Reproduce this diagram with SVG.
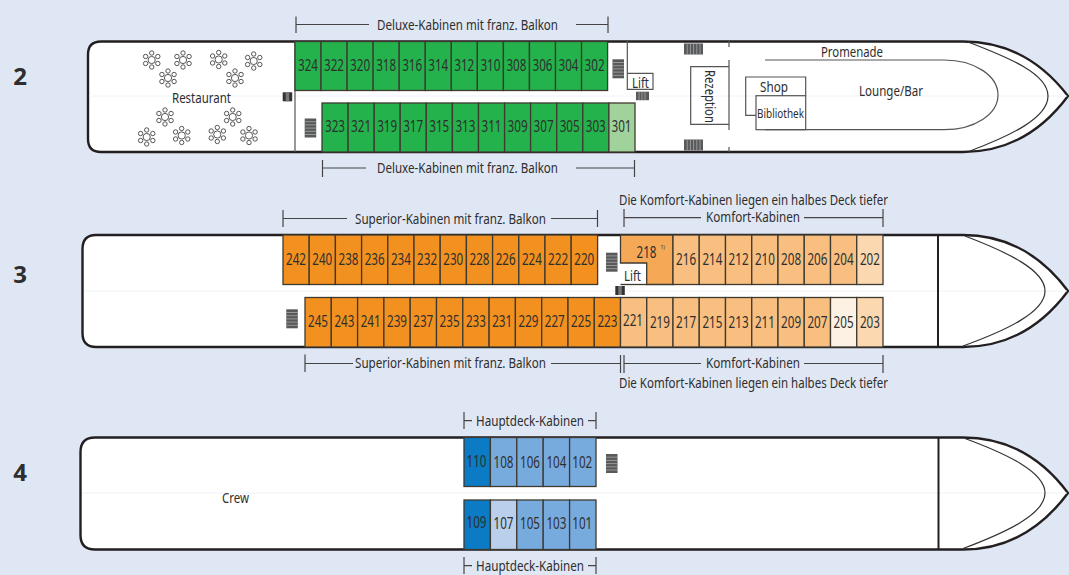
<svg xmlns="http://www.w3.org/2000/svg" width="1069" height="575" viewBox="0 0 1069 575">
<style>
text{font-family:"Noto Sans","Liberation Sans",sans-serif;fill:#2e2e2e;font-size:14px}
.n{font-size:16px;text-anchor:middle}
.c{text-anchor:middle}
.d{font-family:"Open Sans","Noto Sans",sans-serif;font-size:24px;font-weight:700;text-anchor:middle}
.hull{fill:#fff;stroke:#231f20;stroke-width:2.4}
.inner{fill:none;stroke:#333;stroke-width:1.2}
.mid{fill:none;stroke:#eef2f9;stroke-width:1}
.wall{fill:none;stroke:#555;stroke-width:1.2}
.br{fill:none;stroke:#444;stroke-width:1.2}
.cab{stroke:#3f3a30;stroke-width:1.3}
.g{fill:#23b24b}.lg{fill:#a0d39b}
.o{fill:#f29120}.lo{fill:#f8bf80}.mo{fill:#f5a957}.po{fill:#fcd8b0}.vo{fill:#fdf1e3}
.b{fill:#0a7bc4}.mb{fill:#78abdd}.pb{fill:#b9cfeb}
</style>
<defs>
<g id="table" fill="#fff" stroke="#444" stroke-width=".9">
<circle r="3.6"/><circle cx="0" cy="-7" r="2.2"/><circle cx="6.1" cy="-3.5" r="2.2"/><circle cx="6.1" cy="3.5" r="2.2"/><circle cx="0" cy="7" r="2.2"/><circle cx="-6.1" cy="3.5" r="2.2"/><circle cx="-6.1" cy="-3.5" r="2.2"/>
</g>
<g id="stairV"><rect width="11.5" height="19" fill="#58595b"/><path d="M0 3.2H11.5M0 6.4H11.5M0 9.6H11.5M0 12.8H11.5M0 16H11.5" stroke="#a8a8a8" stroke-width=".8"/></g>
<g id="stairH"><rect width="19" height="11" fill="#58595b"/><path d="M3.2 0V11M6.4 0V11M9.6 0V11M12.8 0V11M16 0V11" stroke="#a8a8a8" stroke-width=".8"/></g>
<g id="stairS"><rect width="13" height="8.5" fill="#58595b"/><path d="M3 0V8.5M6 0V8.5M9 0V8.5" stroke="#a8a8a8" stroke-width=".8"/></g>
<g id="liftM"><rect width="9.5" height="9" fill="#333"/><rect x="3" width="3.5" height="9" fill="#777"/></g>
</defs>
<rect id="background" width="1069" height="575" fill="#e0e7f4"/>

<g id="deck2">
<path id="hull2" class="hull" d="M101 41.500H963C1008 41.500 1042 62 1068 96C1042 131 1008 152 963 152H101Q88 152 88 139V54.500Q88 41.500 101 41.500Z"/>
<path class="mid" d="M89 96H1067"/>
<path id="bow2" class="inner" d="M968 42C1010 58 1048 74 1048 96C1048 118 1010 136 970 151"/>
<path id="lounge-wall" class="wall" d="M765 60H944C975 60 998 76 998 95C998 114 975 129.700 944 129.700H765"/>
<path id="walls2" class="wall" d="M295 41V152M729 41V47M729 60V130M729 147V152"/>
<g id="n2"><text class="d" x="20" y="85">2</text></g>
<g id="tables"><use href="#table" x="151.700" y="60"/><use href="#table" x="183" y="60"/><use href="#table" x="218.700" y="59.500"/><use href="#table" x="253.700" y="61"/><use href="#table" x="168" y="78"/><use href="#table" x="235" y="78"/><use href="#table" x="165" y="117"/><use href="#table" x="232.700" y="117"/><use href="#table" x="146.700" y="137"/><use href="#table" x="181.700" y="135.500"/><use href="#table" x="217.300" y="134.500"/><use href="#table" x="249" y="135.500"/></g>
<g id="restaurant"><text class="c" x="201.500" y="102.500" textLength="59" lengthAdjust="spacingAndGlyphs">Restaurant</text></g>
<g id="promenade"><text class="c" x="852" y="56.500" textLength="62" lengthAdjust="spacingAndGlyphs">Promenade</text></g>
<g id="lounge"><text class="c" x="891" y="96" textLength="64" lengthAdjust="spacingAndGlyphs">Lounge/Bar</text></g>
<g id="shop"><path class="wall" d="M756 115.300H745.700V77H805.700V95.700"/><text class="c" x="774" y="91.500" textLength="28" lengthAdjust="spacingAndGlyphs">Shop</text></g>
<g id="bibliothek"><rect class="wall" x="756" y="95.700" width="49.700" height="34" fill="#fff"/><text class="c" x="780.500" y="118" style="font-size:13px" textLength="47" lengthAdjust="spacingAndGlyphs">Bibliothek</text></g>
<g id="rezeption"><path class="wall" d="M729 66.700H690.700V124.300H729"/><text class="c" transform="translate(705 96.500) rotate(90)" textLength="53" lengthAdjust="spacingAndGlyphs">Rezeption</text></g>
<g id="lift2"><path class="wall" d="M627.300 41V89.300H653V73.300H627.300"/><text class="c" x="640.500" y="87.500" textLength="17" lengthAdjust="spacingAndGlyphs">Lift</text></g>
<g id="stairs2"><use href="#stairH" x="684" y="43.500"/><use href="#stairH" x="684" y="139.500"/><use href="#stairS" x="636" y="91.700"/><use href="#stairV" x="612.500" y="59.300"/><use href="#stairV" x="304.700" y="118.500"/><use href="#liftM" x="282.700" y="92.300"/></g>

<g id="c324"><rect class="cab g" x="295" y="41.500" width="26.050" height="49"/><text class="n" x="308" y="70.500" textLength="20" lengthAdjust="spacingAndGlyphs">324</text></g>
<g id="c322"><rect class="cab g" x="321.050" y="41.500" width="26.050" height="49"/><text class="n" x="334" y="70.500" textLength="20" lengthAdjust="spacingAndGlyphs">322</text></g>
<g id="c320"><rect class="cab g" x="347.100" y="41.500" width="26.050" height="49"/><text class="n" x="360.100" y="70.500" textLength="20" lengthAdjust="spacingAndGlyphs">320</text></g>
<g id="c318"><rect class="cab g" x="373.150" y="41.500" width="26.050" height="49"/><text class="n" x="386.200" y="70.500" textLength="20" lengthAdjust="spacingAndGlyphs">318</text></g>
<g id="c316"><rect class="cab g" x="399.200" y="41.500" width="26.050" height="49"/><text class="n" x="412.200" y="70.500" textLength="20" lengthAdjust="spacingAndGlyphs">316</text></g>
<g id="c314"><rect class="cab g" x="425.250" y="41.500" width="26.050" height="49"/><text class="n" x="438.300" y="70.500" textLength="20" lengthAdjust="spacingAndGlyphs">314</text></g>
<g id="c312"><rect class="cab g" x="451.300" y="41.500" width="26.050" height="49"/><text class="n" x="464.300" y="70.500" textLength="20" lengthAdjust="spacingAndGlyphs">312</text></g>
<g id="c310"><rect class="cab g" x="477.350" y="41.500" width="26.050" height="49"/><text class="n" x="490.400" y="70.500" textLength="20" lengthAdjust="spacingAndGlyphs">310</text></g>
<g id="c308"><rect class="cab g" x="503.400" y="41.500" width="26.050" height="49"/><text class="n" x="516.400" y="70.500" textLength="20" lengthAdjust="spacingAndGlyphs">308</text></g>
<g id="c306"><rect class="cab g" x="529.450" y="41.500" width="26.050" height="49"/><text class="n" x="542.500" y="70.500" textLength="20" lengthAdjust="spacingAndGlyphs">306</text></g>
<g id="c304"><rect class="cab g" x="555.500" y="41.500" width="26.050" height="49"/><text class="n" x="568.500" y="70.500" textLength="20" lengthAdjust="spacingAndGlyphs">304</text></g>
<g id="c302"><rect class="cab g" x="581.550" y="41.500" width="26.050" height="49"/><text class="n" x="594.600" y="70.500" textLength="20" lengthAdjust="spacingAndGlyphs">302</text></g>

<g id="c323"><rect class="cab g" x="322" y="103" width="26.100" height="49"/><text class="n" x="335" y="132" textLength="20" lengthAdjust="spacingAndGlyphs">323</text></g>
<g id="c321"><rect class="cab g" x="348.100" y="103" width="26.100" height="49"/><text class="n" x="361.100" y="132" textLength="20" lengthAdjust="spacingAndGlyphs">321</text></g>
<g id="c319"><rect class="cab g" x="374.200" y="103" width="26" height="49"/><text class="n" x="387.200" y="132" textLength="20" lengthAdjust="spacingAndGlyphs">319</text></g>
<g id="c317"><rect class="cab g" x="400.200" y="103" width="26.100" height="49"/><text class="n" x="413.200" y="132" textLength="20" lengthAdjust="spacingAndGlyphs">317</text></g>
<g id="c315"><rect class="cab g" x="426.300" y="103" width="26.100" height="49"/><text class="n" x="439.300" y="132" textLength="20" lengthAdjust="spacingAndGlyphs">315</text></g>
<g id="c313"><rect class="cab g" x="452.400" y="103" width="26.100" height="49"/><text class="n" x="465.400" y="132" textLength="20" lengthAdjust="spacingAndGlyphs">313</text></g>
<g id="c311"><rect class="cab g" x="478.500" y="103" width="26.100" height="49"/><text class="n" x="491.500" y="132" textLength="20" lengthAdjust="spacingAndGlyphs">311</text></g>
<g id="c309"><rect class="cab g" x="504.600" y="103" width="26" height="49"/><text class="n" x="517.600" y="132" textLength="20" lengthAdjust="spacingAndGlyphs">309</text></g>
<g id="c307"><rect class="cab g" x="530.600" y="103" width="26.100" height="49"/><text class="n" x="543.600" y="132" textLength="20" lengthAdjust="spacingAndGlyphs">307</text></g>
<g id="c305"><rect class="cab g" x="556.700" y="103" width="26.100" height="49"/><text class="n" x="569.700" y="132" textLength="20" lengthAdjust="spacingAndGlyphs">305</text></g>
<g id="c303"><rect class="cab g" x="582.800" y="103" width="26.100" height="49"/><text class="n" x="595.800" y="132" textLength="20" lengthAdjust="spacingAndGlyphs">303</text></g>
<g id="c301"><rect class="cab lg" x="608.900" y="103" width="26.100" height="49"/><text class="n" x="621.500" y="132" textLength="20" lengthAdjust="spacingAndGlyphs">301</text></g>
</g>

<g id="deck3">
<path id="hull3" class="hull" d="M96 235H963C1008 235 1042 256 1068 291C1042 326 1008 347 963 347H96Q82.500 347 82.500 333V249Q82.500 235 96 235Z"/>
<path class="mid" d="M84 291H1067"/>
<path id="bow3" class="inner" d="M965 236C1007 252 1045 270 1045 291C1045 312 1007 330 963 346"/>
<path class="hull" d="M938 235V347" style="fill:none;stroke-width:2"/>
<g id="n3"><text class="d" x="20" y="283">3</text></g>

<g id="c242"><rect class="cab o" x="283" y="235" width="26.200" height="49.500"/><text class="n" x="296" y="264.500" textLength="20" lengthAdjust="spacingAndGlyphs">242</text></g>
<g id="c240"><rect class="cab o" x="309.200" y="235" width="26.200" height="49.500"/><text class="n" x="322.300" y="264.500" textLength="20" lengthAdjust="spacingAndGlyphs">240</text></g>
<g id="c238"><rect class="cab o" x="335.400" y="235" width="26.200" height="49.500"/><text class="n" x="348.500" y="264.500" textLength="20" lengthAdjust="spacingAndGlyphs">238</text></g>
<g id="c236"><rect class="cab o" x="361.600" y="235" width="26.200" height="49.500"/><text class="n" x="374.700" y="264.500" textLength="20" lengthAdjust="spacingAndGlyphs">236</text></g>
<g id="c234"><rect class="cab o" x="387.800" y="235" width="26.200" height="49.500"/><text class="n" x="400.900" y="264.500" textLength="20" lengthAdjust="spacingAndGlyphs">234</text></g>
<g id="c232"><rect class="cab o" x="414" y="235" width="26.200" height="49.500"/><text class="n" x="427.100" y="264.500" textLength="20" lengthAdjust="spacingAndGlyphs">232</text></g>
<g id="c230"><rect class="cab o" x="440.200" y="235" width="26.200" height="49.500"/><text class="n" x="453.300" y="264.500" textLength="20" lengthAdjust="spacingAndGlyphs">230</text></g>
<g id="c228"><rect class="cab o" x="466.400" y="235" width="26.200" height="49.500"/><text class="n" x="479.500" y="264.500" textLength="20" lengthAdjust="spacingAndGlyphs">228</text></g>
<g id="c226"><rect class="cab o" x="492.600" y="235" width="26.200" height="49.500"/><text class="n" x="505.700" y="264.500" textLength="20" lengthAdjust="spacingAndGlyphs">226</text></g>
<g id="c224"><rect class="cab o" x="518.800" y="235" width="26.200" height="49.500"/><text class="n" x="531.900" y="264.500" textLength="20" lengthAdjust="spacingAndGlyphs">224</text></g>
<g id="c222"><rect class="cab o" x="545" y="235" width="26.200" height="49.500"/><text class="n" x="558.100" y="264.500" textLength="20" lengthAdjust="spacingAndGlyphs">222</text></g>
<g id="c220"><rect class="cab o" x="571.200" y="235" width="26.400" height="49.500"/><text class="n" x="584.300" y="264.500" textLength="20" lengthAdjust="spacingAndGlyphs">220</text></g>

<g id="c218"><path class="cab mo" d="M620.500 235H673V284.500H646.700V263H620.500Z"/><path class="cab" fill="none" d="M620.500 284.500H647"/><text class="n" x="646.500" y="257.500" textLength="20" lengthAdjust="spacingAndGlyphs">218</text><text x="660.500" y="249" style="font-size:5px">1)</text></g>
<g id="c216"><rect class="cab lo" x="673" y="235" width="26.250" height="49.500"/><text class="n" x="686.100" y="264.500" textLength="20" lengthAdjust="spacingAndGlyphs">216</text></g>
<g id="c214"><rect class="cab lo" x="699.250" y="235" width="26.250" height="49.500"/><text class="n" x="712.400" y="264.500" textLength="20" lengthAdjust="spacingAndGlyphs">214</text></g>
<g id="c212"><rect class="cab lo" x="725.500" y="235" width="26.250" height="49.500"/><text class="n" x="738.600" y="264.500" textLength="20" lengthAdjust="spacingAndGlyphs">212</text></g>
<g id="c210"><rect class="cab lo" x="751.750" y="235" width="26.250" height="49.500"/><text class="n" x="764.900" y="264.500" textLength="20" lengthAdjust="spacingAndGlyphs">210</text></g>
<g id="c208"><rect class="cab lo" x="778" y="235" width="26.250" height="49.500"/><text class="n" x="791.100" y="264.500" textLength="20" lengthAdjust="spacingAndGlyphs">208</text></g>
<g id="c206"><rect class="cab lo" x="804.250" y="235" width="26.250" height="49.500"/><text class="n" x="817.400" y="264.500" textLength="20" lengthAdjust="spacingAndGlyphs">206</text></g>
<g id="c204"><rect class="cab lo" x="830.500" y="235" width="26.250" height="49.500"/><text class="n" x="843.600" y="264.500" textLength="20" lengthAdjust="spacingAndGlyphs">204</text></g>
<g id="c202"><rect class="cab po" x="856.750" y="235" width="26.250" height="49.500"/><text class="n" x="869.900" y="264.500" textLength="20" lengthAdjust="spacingAndGlyphs">202</text></g>

<g id="c245"><rect class="cab o" x="305" y="297.500" width="26.300" height="49.500"/><text class="n" x="318" y="327" textLength="20" lengthAdjust="spacingAndGlyphs">245</text></g>
<g id="c243"><rect class="cab o" x="331.300" y="297.500" width="26.300" height="49.500"/><text class="n" x="344.400" y="327" textLength="20" lengthAdjust="spacingAndGlyphs">243</text></g>
<g id="c241"><rect class="cab o" x="357.600" y="297.500" width="26.300" height="49.500"/><text class="n" x="370.700" y="327" textLength="20" lengthAdjust="spacingAndGlyphs">241</text></g>
<g id="c239"><rect class="cab o" x="383.900" y="297.500" width="26.300" height="49.500"/><text class="n" x="397" y="327" textLength="20" lengthAdjust="spacingAndGlyphs">239</text></g>
<g id="c237"><rect class="cab o" x="410.200" y="297.500" width="26.300" height="49.500"/><text class="n" x="423.300" y="327" textLength="20" lengthAdjust="spacingAndGlyphs">237</text></g>
<g id="c235"><rect class="cab o" x="436.500" y="297.500" width="26.300" height="49.500"/><text class="n" x="449.600" y="327" textLength="20" lengthAdjust="spacingAndGlyphs">235</text></g>
<g id="c233"><rect class="cab o" x="462.800" y="297.500" width="26.300" height="49.500"/><text class="n" x="475.900" y="327" textLength="20" lengthAdjust="spacingAndGlyphs">233</text></g>
<g id="c231"><rect class="cab o" x="489.100" y="297.500" width="26.300" height="49.500"/><text class="n" x="502.200" y="327" textLength="20" lengthAdjust="spacingAndGlyphs">231</text></g>
<g id="c229"><rect class="cab o" x="515.400" y="297.500" width="26.300" height="49.500"/><text class="n" x="528.500" y="327" textLength="20" lengthAdjust="spacingAndGlyphs">229</text></g>
<g id="c227"><rect class="cab o" x="541.700" y="297.500" width="26.300" height="49.500"/><text class="n" x="554.800" y="327" textLength="20" lengthAdjust="spacingAndGlyphs">227</text></g>
<g id="c225"><rect class="cab o" x="568" y="297.500" width="26.300" height="49.500"/><text class="n" x="581.100" y="327" textLength="20" lengthAdjust="spacingAndGlyphs">225</text></g>
<g id="c223"><rect class="cab o" x="594.300" y="297.500" width="26.200" height="49.500"/><text class="n" x="607.400" y="327" textLength="20" lengthAdjust="spacingAndGlyphs">223</text></g>

<g id="c221"><rect class="cab lo" x="620.500" y="297.500" width="26.250" height="49.500"/><text class="n" x="633" y="326" textLength="20" lengthAdjust="spacingAndGlyphs">221</text></g>
<g id="c219"><rect class="cab lo" x="646.750" y="297.500" width="26.250" height="49.500"/><text class="n" x="659.900" y="327.500" textLength="20" lengthAdjust="spacingAndGlyphs">219</text></g>
<g id="c217"><rect class="cab lo" x="673" y="297.500" width="26.250" height="49.500"/><text class="n" x="686.100" y="327.500" textLength="20" lengthAdjust="spacingAndGlyphs">217</text></g>
<g id="c215"><rect class="cab lo" x="699.250" y="297.500" width="26.250" height="49.500"/><text class="n" x="712.400" y="327.500" textLength="20" lengthAdjust="spacingAndGlyphs">215</text></g>
<g id="c213"><rect class="cab lo" x="725.500" y="297.500" width="26.250" height="49.500"/><text class="n" x="738.600" y="327.500" textLength="20" lengthAdjust="spacingAndGlyphs">213</text></g>
<g id="c211"><rect class="cab lo" x="751.750" y="297.500" width="26.250" height="49.500"/><text class="n" x="764.900" y="327.500" textLength="20" lengthAdjust="spacingAndGlyphs">211</text></g>
<g id="c209"><rect class="cab lo" x="778" y="297.500" width="26.250" height="49.500"/><text class="n" x="791.100" y="327.500" textLength="20" lengthAdjust="spacingAndGlyphs">209</text></g>
<g id="c207"><rect class="cab lo" x="804.250" y="297.500" width="26.250" height="49.500"/><text class="n" x="817.400" y="327.500" textLength="20" lengthAdjust="spacingAndGlyphs">207</text></g>
<g id="c205"><rect class="cab vo" x="830.500" y="297.500" width="26.250" height="49.500"/><text class="n" x="843.600" y="327.500" textLength="20" lengthAdjust="spacingAndGlyphs">205</text></g>
<g id="c203"><rect class="cab po" x="856.750" y="297.500" width="26.250" height="49.500"/><text class="n" x="869.900" y="327.500" textLength="20" lengthAdjust="spacingAndGlyphs">203</text></g>

<g id="lift3"><text class="c" x="632.500" y="280.500" textLength="17" lengthAdjust="spacingAndGlyphs">Lift</text></g>
<g id="stairs3"><use href="#stairV" x="606" y="252.700"/><use href="#stairV" x="286.300" y="309.300"/><use href="#liftM" x="615.300" y="286"/></g>
</g>

<g id="deck4">
<path id="hull4" class="hull" d="M95 437.500H963C1008 437.500 1042 458 1068 493C1042 528 1008 549.500 963 549.500H95Q80.500 549.500 80.500 535V452Q80.500 437.500 95 437.500Z"/>
<path class="mid" d="M82 493H1067"/>
<path id="bow4" class="inner" d="M965 438.500C1007 454 1045 472 1045 493C1045 514 1007 532 963 548.500"/>
<path class="hull" d="M938.500 437.500V549.500" style="fill:none;stroke-width:2"/>
<g id="n4"><text class="d" x="20" y="481">4</text></g>
<g id="crew"><text class="c" x="235.500" y="503" textLength="27" lengthAdjust="spacingAndGlyphs">Crew</text></g>
<g id="c110"><rect class="cab b" x="464" y="437.500" width="26.400" height="49"/><text class="n" x="476.500" y="466.500" textLength="20" lengthAdjust="spacingAndGlyphs">110</text></g>
<g id="c108"><rect class="cab mb" x="490.400" y="437.500" width="26.400" height="49"/><text class="n" x="503.500" y="467.500" textLength="20" lengthAdjust="spacingAndGlyphs">108</text></g>
<g id="c106"><rect class="cab mb" x="516.800" y="437.500" width="26.400" height="49"/><text class="n" x="530" y="467.500" textLength="20" lengthAdjust="spacingAndGlyphs">106</text></g>
<g id="c104"><rect class="cab mb" x="543.200" y="437.500" width="26.400" height="49"/><text class="n" x="556.400" y="467.500" textLength="20" lengthAdjust="spacingAndGlyphs">104</text></g>
<g id="c102"><rect class="cab mb" x="569.600" y="437.500" width="26.400" height="49"/><text class="n" x="582.300" y="467.500" textLength="20" lengthAdjust="spacingAndGlyphs">102</text></g>
<g id="c109"><rect class="cab b" x="464" y="500" width="26.400" height="49.500"/><text class="n" x="476.500" y="527.500" textLength="20" lengthAdjust="spacingAndGlyphs">109</text></g>
<g id="c107"><rect class="cab pb" x="490.400" y="500" width="26.400" height="49.500"/><text class="n" x="503.500" y="529" textLength="20" lengthAdjust="spacingAndGlyphs">107</text></g>
<g id="c105"><rect class="cab mb" x="516.800" y="500" width="26.400" height="49.500"/><text class="n" x="530" y="529" textLength="20" lengthAdjust="spacingAndGlyphs">105</text></g>
<g id="c103"><rect class="cab mb" x="543.200" y="500" width="26.400" height="49.500"/><text class="n" x="556.400" y="529" textLength="20" lengthAdjust="spacingAndGlyphs">103</text></g>
<g id="c101"><rect class="cab mb" x="569.600" y="500" width="26.400" height="49.500"/><text class="n" x="582.300" y="529" textLength="20" lengthAdjust="spacingAndGlyphs">101</text></g>
<g id="stairs4"><use href="#stairV" x="606" y="454"/></g>
</g>

<g id="connectors">
<path class="br" d="M296 16.500V33M296 24.500H369M576 24.500H608M608 16.500V33"/>
<path class="br" d="M322.500 160V177M322.500 168H366M576 168H634.500M634.500 160V177"/>
<path class="br" d="M283 210V227M283 218.500H347M551 218.500H597.500M597.500 210V227"/>
<path class="br" d="M624 209V227M624 217.700H701M804 217.700H883M883 209V227"/>
<path class="br" d="M305 354.500V372M305 363.500H353M551 363.500H620.500M620.500 355V373M624 355V373M624 363.500H701M804 363.500H883M883 355V373"/>
<path class="br" d="M464 412V429M464 420.700H472M588 420.700H596M596 412V429"/>
<path class="br" d="M464 557V574M464 565.700H472M588 565.700H596M596 557V574"/>
</g>

<g id="labels">
<text class="c" x="467.500" y="29.500" textLength="181" lengthAdjust="spacingAndGlyphs">Deluxe-Kabinen mit franz. Balkon</text>
<text class="c" x="467.500" y="172.500" textLength="181" lengthAdjust="spacingAndGlyphs">Deluxe-Kabinen mit franz. Balkon</text>
<text class="c" x="450.500" y="223.500" textLength="191" lengthAdjust="spacingAndGlyphs">Superior-Kabinen mit franz. Balkon</text>
<text class="c" x="450.500" y="368.300" textLength="191" lengthAdjust="spacingAndGlyphs">Superior-Kabinen mit franz. Balkon</text>
<text class="c" x="753.500" y="205" textLength="269" lengthAdjust="spacingAndGlyphs">Die Komfort-Kabinen liegen ein halbes Deck tiefer</text>
<text class="c" x="753" y="222.300" textLength="94" lengthAdjust="spacingAndGlyphs">Komfort-Kabinen</text>
<text class="c" x="753" y="368.300" textLength="94" lengthAdjust="spacingAndGlyphs">Komfort-Kabinen</text>
<text class="c" x="753.500" y="388" textLength="269" lengthAdjust="spacingAndGlyphs">Die Komfort-Kabinen liegen ein halbes Deck tiefer</text>
<text class="c" x="530" y="425.700" textLength="108" lengthAdjust="spacingAndGlyphs">Hauptdeck-Kabinen</text>
<text class="c" x="530" y="570.700" textLength="108" lengthAdjust="spacingAndGlyphs">Hauptdeck-Kabinen</text>
</g>
</svg>
